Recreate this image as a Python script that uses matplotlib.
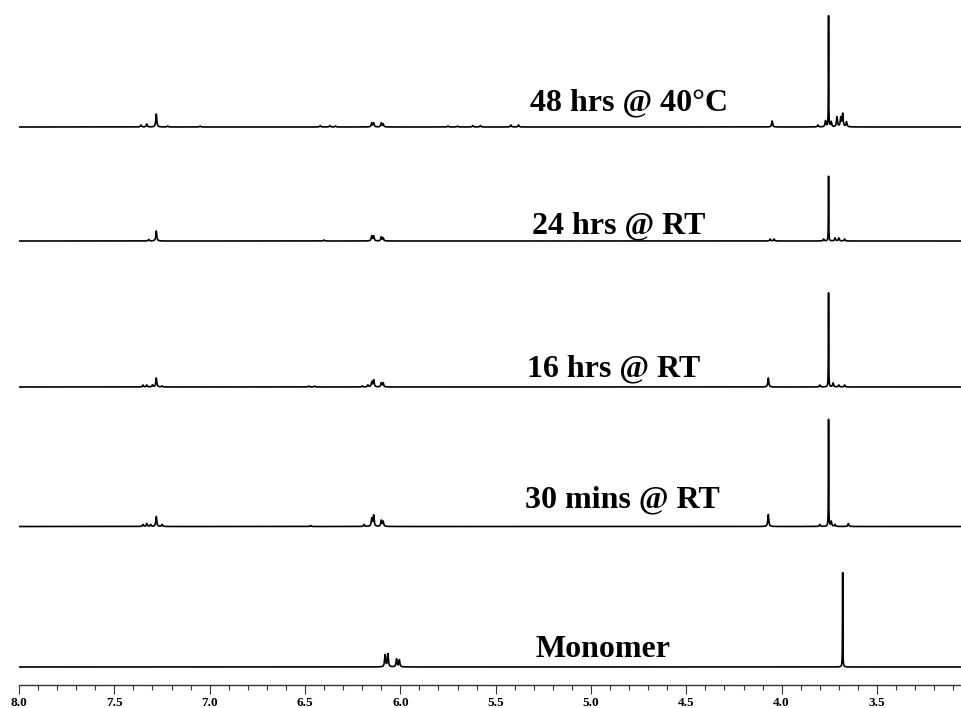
import numpy as np
import matplotlib
matplotlib.use("Agg")
import matplotlib.pyplot as plt
from matplotlib.ticker import MultipleLocator, FormatStrFormatter

# ---- data: peak lists (ppm, height) ----
labels = ["48 hrs @ 40\u00b0C", "24 hrs @ RT", "16 hrs @ RT", "30 mins @ RT", "Monomer"]

peaks_48h_ppm = [7.36, 7.33, 7.28, 7.22, 7.05, 6.42, 6.37, 6.34, 6.15, 6.14, 6.10, 6.09,
                 5.75, 5.70, 5.62, 5.58, 5.42, 5.38, 4.05, 3.81, 3.77, 3.754, 3.74, 3.71, 3.69, 3.68, 3.66]
peaks_48h_int = [2, 3, 13, 1, 1, 1.5, 1.5, 1, 4, 4, 4, 3,
                 1, 1, 1.5, 1.5, 2, 2, 6, 2, 6, 113, 5, 10, 9, 13, 5]

peaks_24h_ppm = [7.32, 7.28, 6.40, 6.15, 6.14, 6.10, 6.09, 4.06, 4.04, 3.78, 3.754, 3.72, 3.70, 3.67]
peaks_24h_int = [1.5, 10, 1, 5, 5, 4, 3, 2, 2, 2, 66, 3, 3, 2]

peaks_16h_ppm = [7.35, 7.33, 7.30, 7.28, 7.25, 6.48, 6.45, 6.20, 6.17, 6.15, 6.14, 6.10, 6.09,
                 4.07, 3.80, 3.754, 3.73, 3.70, 3.67]
peaks_16h_int = [2, 2, 2, 9, 1, 1, 1, 1, 2, 5, 7, 4, 4,
                 9, 2, 96, 4, 2, 2]

peaks_30m_ppm = [7.35, 7.33, 7.31, 7.28, 7.25, 6.47, 6.19, 6.15, 6.14, 6.10, 6.09,
                 4.07, 3.80, 3.754, 3.74, 3.72, 3.65]
peaks_30m_int = [2, 3, 2, 10, 2, 1, 2, 8, 11, 6, 5,
                 12, 2, 109, 5, 2, 3]

peaks_mono_ppm = [6.08, 6.065, 6.02, 6.005, 3.68]
peaks_mono_int = [12, 13, 8, 7, 95]

tick_values = [8.0, 7.5, 7.0, 6.5, 6.0, 5.5, 5.0, 4.5, 4.0, 3.5]

# ---- layout ----
spectra = [(peaks_48h_ppm, peaks_48h_int), (peaks_24h_ppm, peaks_24h_int),
           (peaks_16h_ppm, peaks_16h_int), (peaks_30m_ppm, peaks_30m_int),
           (peaks_mono_ppm, peaks_mono_int)]
offsets = [558, 444, 298, 158.5, 18]
label_pos = [(5.32, 575), (5.31, 452), (5.336, 309), (5.346, 178), (5.29, 28)]

x = np.linspace(8.0, 3.05, 16000)


def spectrum(ppm, inten):
    y = np.zeros_like(x)
    for p, h in zip(ppm, inten):
        hw = 0.0009 if h > 40 else 0.003
        y += h * hw**2 / ((x - p) ** 2 + hw**2)
    return y


fig = plt.figure(figsize=(9.62, 7.08), dpi=100)
ax = fig.add_axes([19 / 962, 23 / 708, 943 / 962, 685 / 708])
ax.set_xlim(8.0, 3.054)
ax.set_ylim(0, 685)

for (pp, ii), off, lab, (tx, ty) in zip(spectra, offsets, labels, label_pos):
    ax.plot(x, spectrum(pp, ii) + off, color="black", lw=1.2, solid_joinstyle="round")
    ax.text(tx, ty, lab, fontfamily="Liberation Serif", fontweight="bold", fontsize=23,
            ha="left", va="baseline", color="black")

for s in ["left", "right", "top"]:
    ax.spines[s].set_visible(False)
ax.spines["bottom"].set_color("#333333")
ax.spines["bottom"].set_linewidth(1.0)
ax.set_yticks([])
ax.set_xticks(tick_values)
ax.xaxis.set_major_formatter(FormatStrFormatter("%.1f"))
ax.xaxis.set_minor_locator(MultipleLocator(0.1))
ax.tick_params(axis="x", which="major", direction="out", length=6.5, width=0.8,
               color="#333333", pad=2)
ax.tick_params(axis="x", which="minor", direction="out", length=3.6, width=0.8,
               color="#333333")
for t in ax.get_xticklabels():
    t.set_fontfamily("Liberation Serif")
    t.set_fontweight("bold")
    t.set_fontsize(9.5)

fig.savefig("out.png", dpi=100)
